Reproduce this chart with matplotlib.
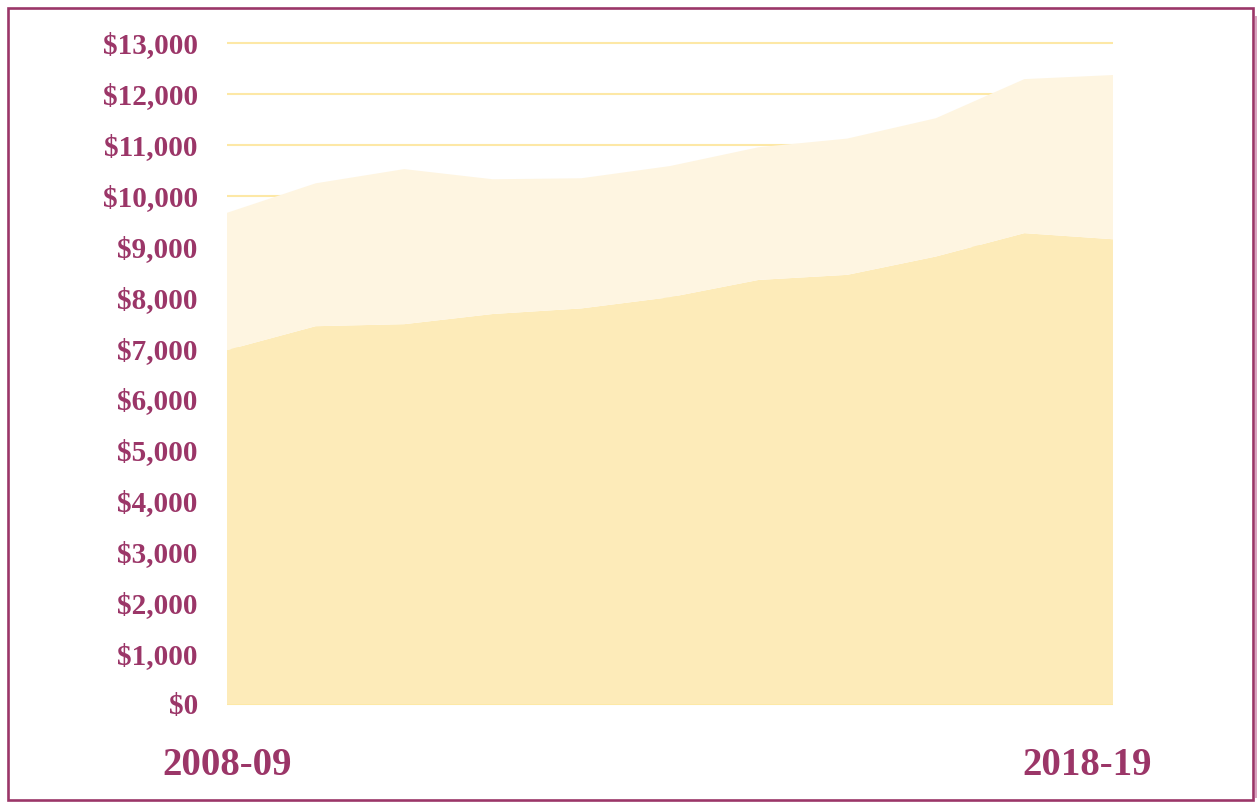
import matplotlib.pyplot as plt
import matplotlib.transforms as mtransforms
from matplotlib.patches import Rectangle

# data
years = ["2008-09", "2009-10", "2010-11", "2011-12", "2012-13", "2013-14",
         "2014-15", "2015-16", "2016-17", "2017-18", "2018-19"]
base_values = [6960, 7430, 7470, 7670, 7780, 8000, 8340, 8440, 8800, 9260, 9140]
total_values = [9660, 10240, 10520, 10320, 10340, 10580, 10950, 11120, 11520, 12290, 12370]
top_values = [t - b for t, b in zip(total_values, base_values)]

y_ticks = list(range(0, 13001, 1000))
y_labels = [f"${v:,}" for v in y_ticks]
x_tick_idx = [0, 10]
x_tick_labels = ["2008-09", "2018-19"]

PURPLE = "#9b3668"
GRID = "#fde8a6"
BASE_COLOR = "#fdebb9"
TOP_COLOR = "#fef5e1"

W, H = 1258, 802
fig = plt.figure(figsize=(W / 100, H / 100), dpi=100)
fig.patch.set_facecolor("white")

ax = fig.add_axes([227 / W, 1 - 704 / H, (1113 - 227) / W, (704 - 43) / H])
x = list(range(len(years)))
ax.stackplot(x, base_values, top_values, colors=[BASE_COLOR, TOP_COLOR],
             linewidth=0, zorder=2)

ax.set_xlim(0, len(years) - 1)
ax.set_ylim(0, 13000)
ax.set_yticks(y_ticks)
ax.set_yticklabels(y_labels)
ax.yaxis.grid(True, color=GRID, linewidth=1.5, zorder=1)
for gl in ax.get_ygridlines():
    gl.set_clip_on(False)
    gl.set_solid_capstyle("butt")
ax.set_axisbelow(True)

ax.set_xticks(x_tick_idx)
ax.set_xticklabels(x_tick_labels)

for s in ax.spines.values():
    s.set_visible(False)
ax.tick_params(axis="y", length=0, pad=21, labelsize=21, labelcolor=PURPLE)
ax.tick_params(axis="x", length=0, pad=31, labelsize=28, labelcolor=PURPLE)
for lab in ax.get_yticklabels() + ax.get_xticklabels():
    lab.set_fontfamily("Liberation Serif")
    lab.set_fontweight("bold")

# last year label sits a bit left of its tick in the original
last = ax.get_xticklabels()[-1]
last.set_transform(last.get_transform() +
                   mtransforms.ScaledTranslation(-26 / 100, 0, fig.dpi_scale_trans))

# frame around the whole picture
fig.patches.append(Rectangle((8 / W, 1 - 799.5 / H), (1252.5 - 8) / W, (799.5 - 7.5) / H,
                             transform=fig.transFigure, fill=False,
                             edgecolor=PURPLE, linewidth=1.9))
fig.patches.append(Rectangle((1254.5 / W, 1 - 798 / H), 2.5 / W, (798 - 16) / H,
                             transform=fig.transFigure, facecolor="#d9a3c0",
                             edgecolor="none"))

fig.savefig("out.png", dpi=100)
